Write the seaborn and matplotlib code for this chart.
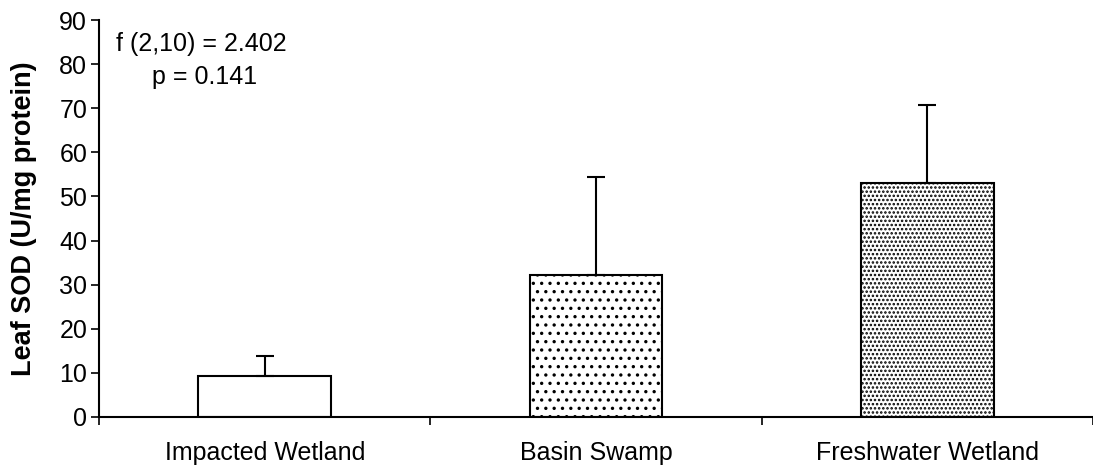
import matplotlib
matplotlib.use("Agg")
import matplotlib.pyplot as plt
import seaborn as sns
import pandas as pd
import numpy as np

# Leaf SOD activity by site
sites = ["Impacted Wetland", "Basin Swamp", "Freshwater Wetland"]
sod_mean = [9.4, 32.1, 53.0]
sod_sd = [4.5, 22.2, 17.7]
y_ticks = [0, 10, 20, 30, 40, 50, 60, 70, 80, 90]
stat_text = ["f (2,10) = 2.402", "p = 0.141"]

sns.set_theme(style="white")
plt.rcParams["font.family"] = ["Liberation Sans", "DejaVu Sans"]
plt.rcParams["hatch.linewidth"] = 1.2
plt.rcParams["text.color"] = "black"
plt.rcParams["xtick.color"] = "black"
plt.rcParams["ytick.color"] = "black"
plt.rcParams["axes.labelcolor"] = "black"

df = pd.DataFrame({"site": sites, "sod": sod_mean})

fig = plt.figure(figsize=(10.93, 4.73), dpi=100)
ax = fig.add_axes([0.0906, 0.1184, 0.9094, 0.8393])

sns.barplot(data=df, x="site", y="sod", order=sites, color="white",
            width=0.4, errorbar=None, edgecolor="black", linewidth=1.5,
            saturation=1, ax=ax)

hatches = ["", "..", "...."]
hatch_colors = ["black", "#444444", "#555555"]
for patch, h, hc in zip(ax.patches, hatches, hatch_colors):
    patch.set_hatch(h)
    patch.set_facecolor("white")
    patch._hatch_color = matplotlib.colors.to_rgba(hc)
    patch.set_edgecolor("black")

# upward-only error bars
xpos = [p.get_x() + p.get_width() / 2 for p in ax.patches]
ax.errorbar(xpos, sod_mean, yerr=[np.zeros(len(sod_sd)), sod_sd], fmt="none",
            ecolor="black", elinewidth=1.5, capsize=6.5, capthick=1.5, zorder=1)

ax.set_xlim(-0.5, 2.5)
ax.set_ylim(0, 90)
ax.set_yticks(y_ticks)
ax.set_yticklabels([str(t) for t in y_ticks], fontsize=18)
ax.set_xticks(range(len(sites)))
ax.set_xticklabels(sites, fontsize=18)
ax.set_xticks([-0.5, 0.5, 1.5, 2.5], minor=True)
ax.tick_params(axis="x", which="major", length=0, pad=17)
ax.tick_params(axis="x", which="minor", length=6, width=1.2, color="black",
               direction="out", bottom=True)
ax.tick_params(axis="y", which="major", length=5.5, width=1.2, color="black",
               direction="out", left=True, pad=3)

ax.set_xlabel("")
ax.set_ylabel("Leaf SOD (U/mg protein)", fontsize=19.5, fontweight="bold", labelpad=16)

for side in ["top", "right"]:
    ax.spines[side].set_visible(False)
for side in ["left", "bottom"]:
    ax.spines[side].set_color("black")
    ax.spines[side].set_linewidth(1.5)

ax.text(-0.19, 84.5, stat_text[0], fontsize=18, ha="center", va="center")
ax.text(-0.18, 77.0, stat_text[1], fontsize=18, ha="center", va="center")

fig.savefig("out.png", dpi=100, facecolor="white")
